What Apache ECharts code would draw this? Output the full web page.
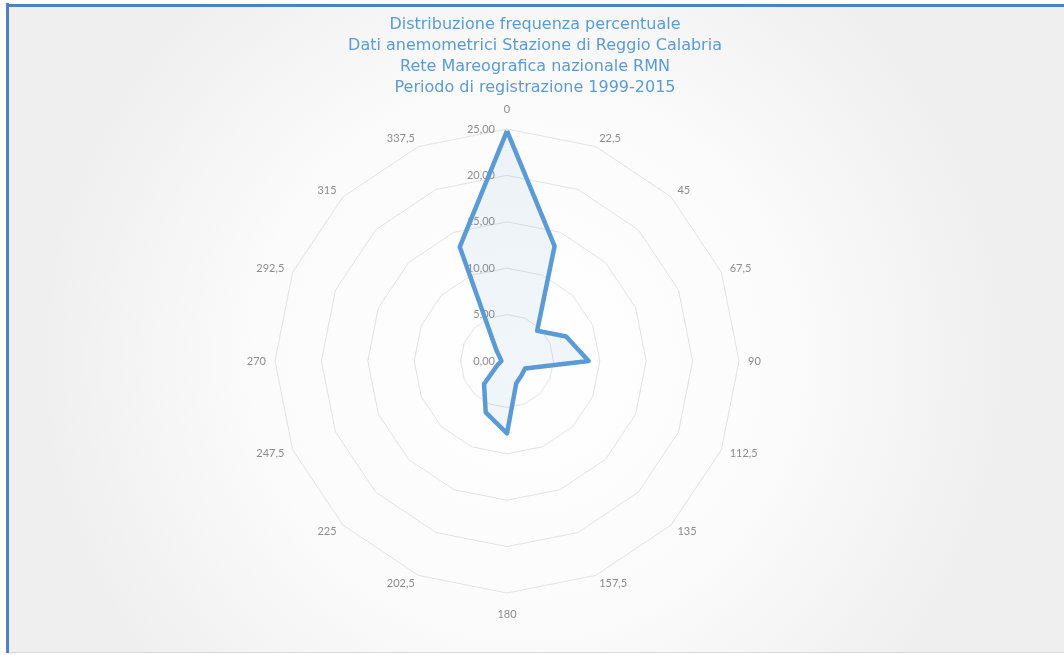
<!DOCTYPE html>
<html>
<head>
<meta charset="utf-8">
<script src="https://cdn.jsdelivr.net/npm/echarts@6/dist/echarts.min.js"></script>
<style>
  html, body { margin: 0; padding: 0; background: #ffffff; }
  #chart { width: 1064px; height: 655px; }
</style>
</head>
<body>
<div id="chart"></div>
<script>
// Directions (degrees, clockwise from North)
const directions = [0, 22.5, 45, 67.5, 90, 112.5, 135, 157.5, 180, 202.5, 225, 247.5, 270, 292.5, 315, 337.5];
// Percentage frequency per direction
const frequency = [24.8, 13.4, 4.6, 6.9, 8.8, 2.1, 2.2, 2.6, 7.8, 6.0, 3.5, 1.1, 0.6, 0.8, 1.6, 13.3];
const axisMin = 0;
const axisMax = 25;
const axisSplits = 5;
const titleLines = [
  'Distribuzione frequenza percentuale',
  'Dati anemometrici Stazione di Reggio Calabria',
  'Rete Mareografica nazionale RMN',
  'Periodo di registrazione 1999-2015'
];

const fmtComma = (v, d) => (d == null ? String(v) : v.toFixed(d)).replace('.', ',');
const FONT = 'Lato, "Open Sans", sans-serif';
const TITLE_FONT = '"DejaVu Sans", "Open Sans", sans-serif';
const n = directions.length;
// ECharts lays out radar indicators counter-clockwise; reorder to get clockwise compass order
const order = directions.map((_, i) => (n - i) % n);

const indicator = order.map((idx, k) => {
  const ind = { name: fmtComma(directions[idx]), min: axisMin, max: axisMax };
  if (k === 0) {
    ind.axisLabel = {
      show: true,
      color: '#8c8c8c',
      fontSize: 11,
      fontFamily: FONT,
      margin: 12,
      formatter: (v) => fmtComma(Number(v), 2)
    };
  }
  return ind;
});
const values = order.map(idx => frequency[idx]);

const chart = echarts.init(document.getElementById('chart'), null, { renderer: 'canvas' });
chart.setOption({
  animation: false,
  backgroundColor: '#ffffff',
  graphic: [
    {
      type: 'rect', z: -10, silent: true,
      shape: { x: 7, y: 5, width: 1100, height: 647 },
      style: {
        fill: {
          type: 'radial', x: 0.47, y: 0.55, r: 0.75,
          colorStops: [
            { offset: 0, color: '#ffffff' },
            { offset: 0.55, color: '#fbfbfb' },
            { offset: 1, color: '#efefef' }
          ]
        }
      }
    },
    { type: 'line', z: -5, silent: true, shape: { x1: 7.5, y1: 3, x2: 7.5, y2: 653 }, style: { stroke: '#4f81bd', lineWidth: 3 } },
    { type: 'line', z: -5, silent: true, shape: { x1: 6, y1: 5.5, x2: 1064, y2: 5.5 }, style: { stroke: '#4f81bd', lineWidth: 3 } },
    { type: 'line', z: -5, silent: true, shape: { x1: 9, y1: 652.5, x2: 1064, y2: 652.5 }, style: { stroke: '#d9d9d9', lineWidth: 1 } }
  ],
  title: {
    text: titleLines.join('\n'),
    left: 530,
    top: 9,
    textAlign: 'center',
    textStyle: {
      color: '#5b9bd5',
      fontSize: 16,
      fontWeight: 'normal',
      fontFamily: TITLE_FONT,
      lineHeight: 21
    }
  },
  radar: {
    center: [507, 361],
    radius: 232,
    startAngle: 90,
    splitNumber: axisSplits,
    shape: 'polygon',
    nameGap: 9,
    axisName: {
      color: '#8c8c8c',
      fontSize: 11,
      fontFamily: FONT,
      padding: [7, 0, 5, 0]
    },
    axisLine: { show: false },
    axisTick: { show: false },
    axisLabel: { show: false },
    splitLine: { lineStyle: { color: '#e3e3e3', width: 1 } },
    splitArea: { show: false },
    indicator: indicator
  },
  series: [{
    type: 'radar',
    symbol: 'none',
    data: [{
      value: values,
      lineStyle: { color: '#5b9bd5', width: 4.5, join: 'round' },
      areaStyle: { color: 'rgba(91,155,213,0.12)' }
    }]
  }]
});
</script>
</body>
</html>
